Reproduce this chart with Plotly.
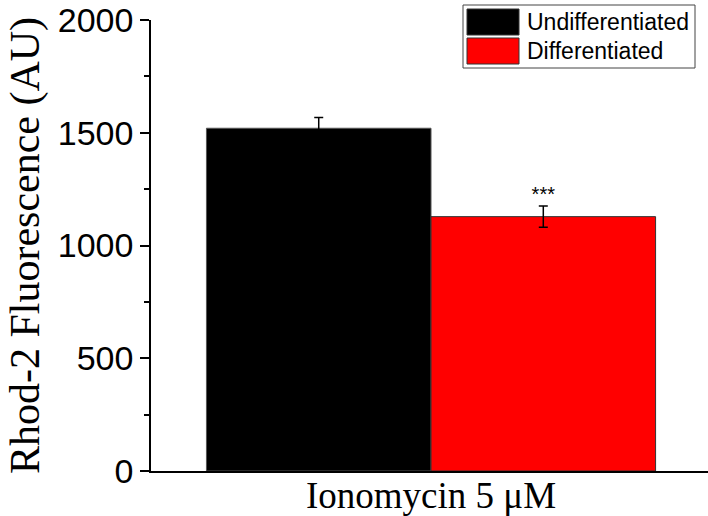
import plotly.graph_objects as go

# ---- data ----
category = ["Ionomycin 5 μM"]
series_names = ["Undifferentiated", "Differentiated"]
undiff_values = [1520]
undiff_err = [48]
diff_values = [1128]
diff_err = [47]
significance = ["***"]
y_tick_vals = [0, 500, 1000, 1500, 2000]
y_tick_text = ["0", "500", "1000", "1500", "2000"]

colors = ["#000000", "#ff0000"]

W, H = 708, 516
L, R, T, B = 151, 0, 20, 45
pw, ph = W - L - R, H - T - B


def px(x):
    return (x - L) / pw


def py(y):
    return (H - B - y) / ph


fig = go.Figure()
fig.add_trace(go.Bar(
    name=series_names[0], x=category, y=undiff_values, offsetgroup="u",
    marker=dict(color=colors[0], line=dict(color="#555555", width=1)),
    error_y=dict(type="data", array=undiff_err, color="#000000", thickness=1.5, width=4.5),
    showlegend=False,
))
fig.add_trace(go.Bar(
    name=series_names[1], x=category, y=diff_values, offsetgroup="d",
    marker=dict(color=colors[1], line=dict(color="#333333", width=1)),
    error_y=dict(type="data", array=diff_err, color="#000000", thickness=1.5, width=4.5),
    showlegend=False,
))
# significance marker placed above the differentiated bar's error bar
fig.add_trace(go.Scatter(
    x=category, y=[v + e for v, e in zip(diff_values, diff_err)], offsetgroup="d",
    mode="text", text=significance, textposition="top center",
    textfont=dict(family="Liberation Sans", size=20, color="#000000"),
    cliponaxis=False, showlegend=False, hoverinfo="skip",
))

# custom legend (large swatches, as in the original)
shapes = [
    dict(type="rect", xref="paper", yref="paper", x0=px(463), x1=px(695), y0=py(68), y1=py(5),
         line=dict(color="#444444", width=1), fillcolor="white", layer="above"),
]
annotations = []
rows = [(9, 35), (38, 64)]
for i, (y0, y1) in enumerate(rows):
    shapes.append(dict(type="rect", xref="paper", yref="paper", x0=px(467), x1=px(519),
                       y0=py(y1), y1=py(y0), fillcolor=colors[i],
                       line=dict(color="#333333", width=1), layer="above"))
    annotations.append(dict(xref="paper", yref="paper", x=px(525), y=py((y0 + y1) / 2),
                            text=series_names[i], showarrow=False, xanchor="left", yanchor="middle",
                            font=dict(family="Liberation Sans", size=23, color="#000000")))

fig.update_layout(
    width=W, height=H,
    margin=dict(l=L, r=R, t=T, b=B, pad=0),
    paper_bgcolor="white", plot_bgcolor="white",
    barmode="group", scattermode="group", bargap=0.198, bargroupgap=0,
    shapes=shapes, annotations=annotations,
    showlegend=False,
)
fig.update_xaxes(
    range=[-0.5, 0.4946], showline=True, linecolor="#000000", linewidth=1.5,
    ticks="", showgrid=False, zeroline=False, automargin=False,
    ticklabelstandoff=-9,
    tickfont=dict(family="Liberation Serif", size=37, color="#000000"),
)
fig.update_yaxes(
    range=[0, 2000], showline=True, linecolor="#000000", linewidth=1.5,
    tickvals=y_tick_vals, ticktext=y_tick_text,
    ticks="outside", ticklen=9, tickwidth=1.5, tickcolor="#000000",
    minor=dict(dtick=250, ticks="outside", ticklen=5, tickwidth=1.5, tickcolor="#000000"),
    showgrid=False, zeroline=False, automargin=False,
    tickfont=dict(family="Liberation Sans", size=34, color="#000000"),
    title=dict(text="Rhod-2 Fluorescence (AU)", standoff=5,
               font=dict(family="Liberation Serif", size=42, color="#000000")),
)

fig.write_html("out.html")
